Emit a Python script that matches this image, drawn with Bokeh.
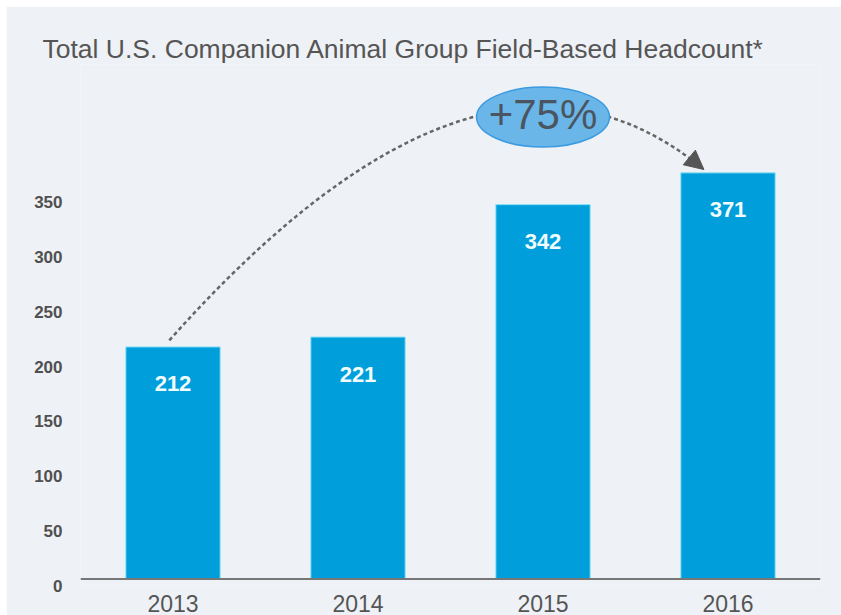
from bokeh.plotting import figure
from bokeh.models import (Range1d, FactorRange, Arrow, NormalHead, ColumnDataSource,
                          FixedTicker, Spacer, LinearAxis, Span)
from bokeh.layouts import column, row
from bokeh.core.properties import value
from bokeh.embed import file_html
from bokeh.resources import INLINE

# ---- data ----
years = ["2013", "2014", "2015", "2016"]
headcount = [212, 221, 342, 371]
y_ticks = [0, 50, 100, 150, 200, 250, 300, 350]
title_text = "Total U.S. Companion Animal Group Field-Based Headcount*"

growth = round((headcount[-1] - headcount[0]) / headcount[0] * 100)
growth_label = f"+{growth}%"

BG = "#eef1f5"
BAR = "#009fdb"
GREY = "#555555"
FONT = "Liberation Sans"

Y_LO, Y_HI = -6, 470          # frame extends a little below the zero line
LABEL_SHIFT = 6               # tick labels sit slightly below their values

p = figure(
    x_range=FactorRange(*years, range_padding=0),
    y_range=Range1d(Y_LO, Y_HI),
    y_axis_location=None,
    width=835, height=609,
    output_backend="svg", toolbar_location=None,
    min_border_left=74, min_border_right=21,
    min_border_top=58, min_border_bottom=30,
)
p.background_fill_color = BG
p.border_fill_color = BG
p.outline_line_color = None
p.xgrid.grid_line_color = None
p.ygrid.grid_line_color = None

p.title.text = title_text
p.title.align = "left"
p.title.offset = -38
p.title.standoff = 2
p.title.text_font = FONT
p.title.text_font_size = "26.5px"
p.title.text_font_style = "normal"
p.title.text_color = GREY

src = ColumnDataSource(dict(year=years, count=headcount,
                            label=[str(v) for v in headcount]))

p.vbar(x="year", top="count", bottom=0, width=0.51, source=src,
       fill_color=BAR, line_color="#8ee3f7", line_width=1)

p.text(x="year", y="count", text="label", source=src,
       text_color="#f2fdff", text_font=value(FONT), text_font_style="bold",
       text_font_size="22px", text_align="center", text_baseline="middle",
       y_offset=37)

# baseline
p.add_layout(Span(location=0, dimension="width", line_color="#777777", line_width=2))

# x axis (labels only)
xa = p.xaxis[0]
xa.axis_line_color = None
xa.major_tick_line_color = None
xa.minor_tick_line_color = None
xa.major_label_text_font = FONT
xa.major_label_text_font_size = "23px"
xa.major_label_text_color = GREY
xa.major_label_standoff = 3

# y axis labels
p.extra_y_ranges = {"ylab": Range1d(Y_LO + LABEL_SHIFT, Y_HI + LABEL_SHIFT)}
ya = LinearAxis(y_range_name="ylab", ticker=FixedTicker(ticks=y_ticks))
ya.axis_line_color = None
ya.major_tick_line_color = None
ya.minor_tick_line_color = None
ya.major_label_text_font = FONT
ya.major_label_text_font_size = "17px"
ya.major_label_text_font_style = "bold"
ya.major_label_text_color = "#505050"
ya.major_label_standoff = 12
p.add_layout(ya, "left")

# growth arc (annotation geometry)
x0, y0 = 0.48, headcount[0] + 6
x1, y1 = 3.37, headcount[-1] + 3
cx, cy = 2.18, 541
p.quadratic(x0=[x0], y0=[y0], x1=[x1], y1=[y1], cx=[cx], cy=[cy],
            line_color="#666666", line_width=2.5, line_dash="4 3")
p.add_layout(Arrow(end=NormalHead(size=19, fill_color="#555555", line_color="#555555"),
                   x_start=x1 - 0.1 * (x1 - cx), y_start=y1 - 0.1 * (y1 - cy),
                   x_end=x1, y_end=y1, line_alpha=0))

p.ellipse(x=[2.5], y=[422], width=133, height=60, width_units="screen",
          height_units="screen", fill_color="#6bb6e8", line_color="#3a9be0",
          line_width=1.5)
p.text(x=[2.5], y=[422], text=[growth_label], text_color="#4a5561",
       text_font=value(FONT), text_font_size="42px", text_align="center",
       text_baseline="middle", y_offset=-3)

layout = column(Spacer(height=6), row(Spacer(width=6), p))

open("out.html", "w").write(file_html(layout, INLINE))
